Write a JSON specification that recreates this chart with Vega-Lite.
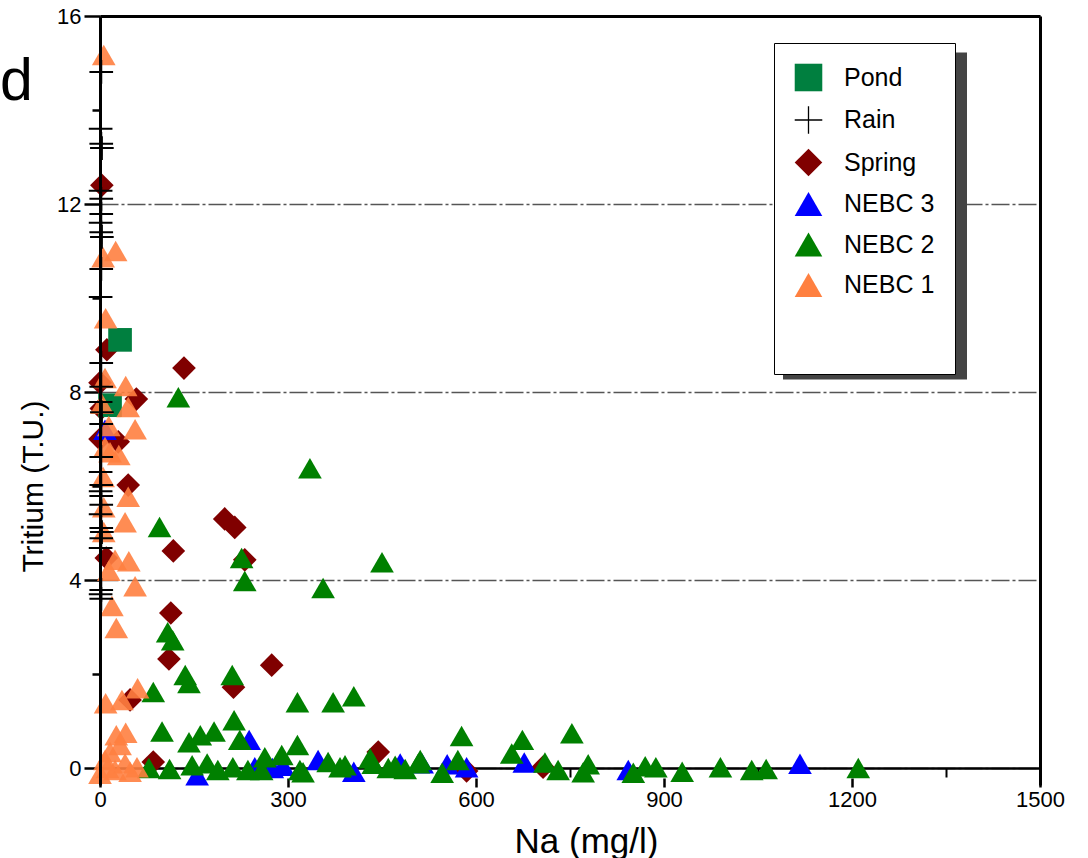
{
  "$schema": "https://vega.github.io/schema/vega-lite/v6.json",
  "width": 940,
  "height": 769,
  "autosize": {"type": "none"},
  "padding": {"left": 100, "top": 16, "right": 48, "bottom": 73},
  "background": "white",
  "config": {
    "view": {"stroke": null},
    "font": "Liberation Sans",
    "axis": {"labelFont": "Liberation Sans", "titleFont": "Liberation Sans", "labelColor": "black", "titleColor": "black", "tickColor": "black", "domainColor": "black", "labelFlush": false, "labelOverlap": false}
  },
  "title": {"text": "d", "anchor": "start", "frame": "group", "orient": "top", "fontSize": 59, "fontWeight": "normal", "font": "Liberation Sans", "color": "black", "baseline": "alphabetic", "offset": 0, "dx": -100, "dy": 154},
  "data": {
    "values": [
      {"type": "Spring", "na": 3, "tritium": 12.4},
      {"type": "Spring", "na": 11, "tritium": 8.9},
      {"type": "Spring", "na": 0, "tritium": 8.2},
      {"type": "Spring", "na": 2, "tritium": 7.65},
      {"type": "Spring", "na": 0, "tritium": 7.0},
      {"type": "Spring", "na": 134, "tritium": 8.51},
      {"type": "Spring", "na": 58, "tritium": 7.85},
      {"type": "Spring", "na": 29, "tritium": 6.94},
      {"type": "Spring", "na": 45, "tritium": 6.02},
      {"type": "Spring", "na": 10, "tritium": 4.47},
      {"type": "Spring", "na": 199, "tritium": 5.3},
      {"type": "Spring", "na": 215, "tritium": 5.12},
      {"type": "Spring", "na": 117, "tritium": 4.62},
      {"type": "Spring", "na": 231, "tritium": 4.43},
      {"type": "Spring", "na": 113, "tritium": 3.3},
      {"type": "Spring", "na": 110, "tritium": 2.32},
      {"type": "Spring", "na": 274, "tritium": 2.19},
      {"type": "Spring", "na": 213, "tritium": 1.72},
      {"type": "Spring", "na": 48, "tritium": 1.45},
      {"type": "Spring", "na": 85, "tritium": 0.13},
      {"type": "Spring", "na": 444, "tritium": 0.34},
      {"type": "Spring", "na": 585, "tritium": -0.06},
      {"type": "Spring", "na": 707, "tritium": 0.02},
      {"type": "Pond", "na": 32, "tritium": 9.11},
      {"type": "Pond", "na": 16, "tritium": 7.72},
      {"type": "NEBC 3", "na": 8, "tritium": 7.2},
      {"type": "NEBC 3", "na": 238, "tritium": 0.6},
      {"type": "NEBC 3", "na": 247, "tritium": 0.02},
      {"type": "NEBC 3", "na": 275, "tritium": 0.0},
      {"type": "NEBC 3", "na": 292, "tritium": 0.05},
      {"type": "NEBC 3", "na": 155, "tritium": -0.15},
      {"type": "NEBC 3", "na": 348, "tritium": 0.17},
      {"type": "NEBC 3", "na": 405, "tritium": -0.08},
      {"type": "NEBC 3", "na": 479, "tritium": 0.1},
      {"type": "NEBC 3", "na": 514, "tritium": 0.1},
      {"type": "NEBC 3", "na": 554, "tritium": 0.08},
      {"type": "NEBC 3", "na": 585, "tritium": 0.02},
      {"type": "NEBC 3", "na": 677, "tritium": 0.12},
      {"type": "NEBC 3", "na": 843, "tritium": -0.04},
      {"type": "NEBC 3", "na": 1117, "tritium": 0.09},
      {"type": "NEBC 2", "na": 125, "tritium": 7.89},
      {"type": "NEBC 2", "na": 335, "tritium": 6.38},
      {"type": "NEBC 2", "na": 95, "tritium": 5.13},
      {"type": "NEBC 2", "na": 226, "tritium": 4.47},
      {"type": "NEBC 2", "na": 231, "tritium": 3.98},
      {"type": "NEBC 2", "na": 356, "tritium": 3.83},
      {"type": "NEBC 2", "na": 450, "tritium": 4.38},
      {"type": "NEBC 2", "na": 108, "tritium": 2.89},
      {"type": "NEBC 2", "na": 116, "tritium": 2.72},
      {"type": "NEBC 2", "na": 136, "tritium": 1.98},
      {"type": "NEBC 2", "na": 142, "tritium": 1.81},
      {"type": "NEBC 2", "na": 211, "tritium": 1.98},
      {"type": "NEBC 2", "na": 85, "tritium": 1.62},
      {"type": "NEBC 2", "na": 315, "tritium": 1.4},
      {"type": "NEBC 2", "na": 372, "tritium": 1.4},
      {"type": "NEBC 2", "na": 405, "tritium": 1.53},
      {"type": "NEBC 2", "na": 99, "tritium": 0.78},
      {"type": "NEBC 2", "na": 142, "tritium": 0.55},
      {"type": "NEBC 2", "na": 160, "tritium": 0.7},
      {"type": "NEBC 2", "na": 182, "tritium": 0.78},
      {"type": "NEBC 2", "na": 214, "tritium": 1.02},
      {"type": "NEBC 2", "na": 223, "tritium": 0.6},
      {"type": "NEBC 2", "na": 290, "tritium": 0.28},
      {"type": "NEBC 2", "na": 315, "tritium": 0.49},
      {"type": "NEBC 2", "na": 263, "tritium": 0.23},
      {"type": "NEBC 2", "na": 258, "tritium": -0.04},
      {"type": "NEBC 2", "na": 319, "tritium": -0.04},
      {"type": "NEBC 2", "na": 364, "tritium": 0.13},
      {"type": "NEBC 2", "na": 391, "tritium": 0.06},
      {"type": "NEBC 2", "na": 431, "tritium": 0.21},
      {"type": "NEBC 2", "na": 471, "tritium": 0.05},
      {"type": "NEBC 2", "na": 487, "tritium": -0.02},
      {"type": "NEBC 2", "na": 511, "tritium": 0.17},
      {"type": "NEBC 2", "na": 546, "tritium": -0.1},
      {"type": "NEBC 2", "na": 577, "tritium": 0.68},
      {"type": "NEBC 2", "na": 571, "tritium": 0.17},
      {"type": "NEBC 2", "na": 657, "tritium": 0.31},
      {"type": "NEBC 2", "na": 674, "tritium": 0.6},
      {"type": "NEBC 2", "na": 753, "tritium": 0.74},
      {"type": "NEBC 2", "na": 710, "tritium": 0.12},
      {"type": "NEBC 2", "na": 731, "tritium": -0.04},
      {"type": "NEBC 2", "na": 779, "tritium": 0.08},
      {"type": "NEBC 2", "na": 771, "tritium": -0.09},
      {"type": "NEBC 2", "na": 851, "tritium": -0.1},
      {"type": "NEBC 2", "na": 870, "tritium": 0.04},
      {"type": "NEBC 2", "na": 887, "tritium": 0.02},
      {"type": "NEBC 2", "na": 929, "tritium": -0.08},
      {"type": "NEBC 2", "na": 990, "tritium": 0.02},
      {"type": "NEBC 2", "na": 1040, "tritium": -0.04},
      {"type": "NEBC 2", "na": 1063, "tritium": -0.02},
      {"type": "NEBC 2", "na": 1210, "tritium": 0.0},
      {"type": "NEBC 2", "na": 78, "tritium": 0.0},
      {"type": "NEBC 2", "na": 111, "tritium": -0.02},
      {"type": "NEBC 2", "na": 147, "tritium": 0.06},
      {"type": "NEBC 2", "na": 171, "tritium": 0.1},
      {"type": "NEBC 2", "na": 188, "tritium": -0.04},
      {"type": "NEBC 2", "na": 212, "tritium": 0.02},
      {"type": "NEBC 2", "na": 236, "tritium": -0.04},
      {"type": "NEBC 2", "na": 324, "tritium": -0.09},
      {"type": "NEBC 2", "na": 383, "tritium": 0.02},
      {"type": "NEBC 2", "na": 436, "tritium": 0.09},
      {"type": "NEBC 2", "na": 460, "tritium": 0.0},
      {"type": "NEBC 2", "na": 508, "tritium": 0.1},
      {"type": "NEBC 1", "na": 6, "tritium": 15.17},
      {"type": "NEBC 1", "na": 5, "tritium": 10.87},
      {"type": "NEBC 1", "na": 25, "tritium": 11.0},
      {"type": "NEBC 1", "na": 9, "tritium": 9.57},
      {"type": "NEBC 1", "na": 8, "tritium": 8.3},
      {"type": "NEBC 1", "na": 41, "tritium": 8.13},
      {"type": "NEBC 1", "na": 45, "tritium": 7.68},
      {"type": "NEBC 1", "na": 3, "tritium": 7.75},
      {"type": "NEBC 1", "na": 14, "tritium": 7.28},
      {"type": "NEBC 1", "na": 56, "tritium": 7.21},
      {"type": "NEBC 1", "na": 8, "tritium": 6.83},
      {"type": "NEBC 1", "na": 30, "tritium": 6.66},
      {"type": "NEBC 1", "na": 16, "tritium": 6.72},
      {"type": "NEBC 1", "na": 5, "tritium": 6.19},
      {"type": "NEBC 1", "na": 45, "tritium": 5.77},
      {"type": "NEBC 1", "na": 6, "tritium": 5.55},
      {"type": "NEBC 1", "na": 40, "tritium": 5.23},
      {"type": "NEBC 1", "na": 6, "tritium": 5.02},
      {"type": "NEBC 1", "na": 24, "tritium": 4.43},
      {"type": "NEBC 1", "na": 14, "tritium": 4.2},
      {"type": "NEBC 1", "na": 46, "tritium": 4.4},
      {"type": "NEBC 1", "na": 56, "tritium": 3.87},
      {"type": "NEBC 1", "na": 19, "tritium": 3.45},
      {"type": "NEBC 1", "na": 26, "tritium": 2.98},
      {"type": "NEBC 1", "na": 9, "tritium": 1.38},
      {"type": "NEBC 1", "na": 35, "tritium": 1.45},
      {"type": "NEBC 1", "na": 60, "tritium": 1.7},
      {"type": "NEBC 1", "na": 26, "tritium": 0.7},
      {"type": "NEBC 1", "na": 41, "tritium": 0.75},
      {"type": "NEBC 1", "na": 8, "tritium": 0.17},
      {"type": "NEBC 1", "na": 16, "tritium": 0.34},
      {"type": "NEBC 1", "na": 24, "tritium": -0.04},
      {"type": "NEBC 1", "na": 32, "tritium": 0.49},
      {"type": "NEBC 1", "na": 0, "tritium": -0.12},
      {"type": "NEBC 1", "na": 59, "tritium": 0.02},
      {"type": "NEBC 1", "na": 12, "tritium": 0.0},
      {"type": "NEBC 1", "na": 40, "tritium": 0.1},
      {"type": "NEBC 1", "na": 48, "tritium": -0.08},
      {"type": "Rain", "na": 2, "tritium": 14.81},
      {"type": "Rain", "na": 1, "tritium": 13.6},
      {"type": "Rain", "na": 2, "tritium": 13.28},
      {"type": "Rain", "na": 3, "tritium": 13.19},
      {"type": "Rain", "na": 1, "tritium": 12.28},
      {"type": "Rain", "na": 2, "tritium": 12.11},
      {"type": "Rain", "na": 2, "tritium": 11.79},
      {"type": "Rain", "na": 1, "tritium": 11.6},
      {"type": "Rain", "na": 2, "tritium": 11.4},
      {"type": "Rain", "na": 3, "tritium": 11.3},
      {"type": "Rain", "na": 2, "tritium": 10.62},
      {"type": "Rain", "na": 1, "tritium": 10.02},
      {"type": "Rain", "na": 2, "tritium": 8.62},
      {"type": "Rain", "na": 2, "tritium": 8.11},
      {"type": "Rain", "na": 1, "tritium": 7.79},
      {"type": "Rain", "na": 3, "tritium": 7.57},
      {"type": "Rain", "na": 2, "tritium": 7.32},
      {"type": "Rain", "na": 2, "tritium": 6.62},
      {"type": "Rain", "na": 1, "tritium": 6.3},
      {"type": "Rain", "na": 2, "tritium": 6.02},
      {"type": "Rain", "na": 1, "tritium": 5.89},
      {"type": "Rain", "na": 2, "tritium": 5.79},
      {"type": "Rain", "na": 2, "tritium": 5.6},
      {"type": "Rain", "na": 1, "tritium": 5.4},
      {"type": "Rain", "na": 2, "tritium": 5.11},
      {"type": "Rain", "na": 3, "tritium": 5.02},
      {"type": "Rain", "na": 2, "tritium": 4.89},
      {"type": "Rain", "na": 1, "tritium": 4.68},
      {"type": "Rain", "na": 2, "tritium": 3.79},
      {"type": "Rain", "na": 1, "tritium": 3.7},
      {"type": "Rain", "na": 2, "tritium": 3.6}
    ]
  },
  "resolve": {"axis": {"x": "independent", "y": "independent"}},
  "layer": [
    {
      "transform": [{"filter": "datum.type === 'Spring' || datum.type === 'Pond' || datum.type === 'NEBC 3' || datum.type === 'NEBC 2'"}],
      "mark": {"type": "point", "filled": true, "size": 560, "strokeWidth": 0},
      "encoding": {
        "x": {"field": "na", "type": "quantitative", "scale": {"domain": [0, 1500], "nice": false, "zero": false},
          "axis": {"orient": "bottom", "offset": -7, "values": [0, 300, 600, 900, 1200, 1500], "domain": false, "ticks": true, "tickSize": 9, "tickWidth": 2.5, "labelFontSize": 22, "labelPadding": 2, "grid": false, "title": "Na (mg/l)", "titleFontSize": 35, "titleFontWeight": "normal", "titleX": 486, "titleY": 74, "titleBaseline": "alphabetic", "titleAlign": "center", "format": "d"}},
        "y": {"field": "tritium", "type": "quantitative", "scale": {"domain": [-0.36, 16], "nice": false, "zero": false},
          "axis": {"orient": "left", "values": [0, 4, 8, 12, 16], "domain": false, "tickSize": 16, "tickWidth": 2.5, "labelFontSize": 22, "labelPadding": 3, "grid": true, "gridColor": "#555555", "gridDash": [18, 3, 3, 3], "gridWidth": 1.3, "title": "Tritium (T.U.)", "titleFontSize": 30, "titleFontWeight": "normal", "titleX": -58, "titleY": 470, "titleBaseline": "alphabetic", "titleAlign": "center", "format": "d"}},
        "fill": {"field": "type", "type": "nominal", "scale": {"domain": ["Pond", "Rain", "Spring", "NEBC 3", "NEBC 2", "NEBC 1"], "range": ["#007f3f", "transparent", "#800000", "#0000ff", "#008000", "#ff8040"]},
          "legend": {"orient": "none", "legendX": 674, "legendY": 27, "title": "\u00a0", "titleOrient": "bottom", "titleFontSize": 40, "titlePadding": 13.5, "fillColor": "white", "strokeColor": "black", "padding": 20, "symbolSize": 760, "symbolStrokeWidth": 1.3, "symbolOpacity": 1, "labelFontSize": 25, "labelColor": "black", "labelFont": "Liberation Sans", "labelOffset": 21, "rowPadding": 9.5, "labelLimit": 0, "zindex": 2}},
        "stroke": {"field": "type", "type": "nominal", "scale": {"domain": ["Pond", "Rain", "Spring", "NEBC 3", "NEBC 2", "NEBC 1"], "range": ["transparent", "#000000", "transparent", "transparent", "transparent", "transparent"]},
          "legend": {"orient": "none", "legendX": 674, "legendY": 27, "title": "\u00a0", "titleOrient": "bottom", "titleFontSize": 40, "titlePadding": 13.5, "fillColor": "white", "strokeColor": "black", "padding": 20, "symbolSize": 760, "symbolStrokeWidth": 1.3, "symbolOpacity": 1, "labelFontSize": 25, "labelColor": "black", "labelFont": "Liberation Sans", "labelOffset": 21, "rowPadding": 9.5, "labelLimit": 0, "zindex": 2}},
        "shape": {"field": "type", "type": "nominal", "scale": {"domain": ["Pond", "Rain", "Spring", "NEBC 3", "NEBC 2", "NEBC 1"], "range": ["square", "M-1,0H1M0,-1V1", "diamond", "triangle-up", "triangle-up", "triangle-up"]},
          "legend": {"orient": "none", "legendX": 674, "legendY": 27, "title": "\u00a0", "titleOrient": "bottom", "titleFontSize": 40, "titlePadding": 13.5, "fillColor": "white", "strokeColor": "black", "padding": 20, "symbolSize": 760, "symbolStrokeWidth": 1.3, "symbolOpacity": 1, "labelFontSize": 25, "labelColor": "black", "labelFont": "Liberation Sans", "labelOffset": 21, "rowPadding": 9.5, "labelLimit": 0, "zindex": 2}},
        "opacity": {"field": "na", "type": "quantitative", "scale": {"range": [1, 1]},
          "legend": {"orient": "none", "legendX": 774, "legendY": 199, "title": null, "padding": 0, "symbolType": "M-92,-163.5H92V163.5H-92Z", "symbolSize": 4, "symbolFillColor": "#444444", "symbolStrokeColor": "transparent", "symbolStrokeWidth": 0, "symbolOpacity": 1, "labelExpr": "''", "labelFontSize": 1, "values": [0], "zindex": 1}}
      }
    },
    {
      "transform": [{"filter": "datum.type === 'NEBC 1'"}],
      "mark": {"type": "point", "filled": true, "size": 560, "strokeWidth": 0, "opacity": 0.9},
      "encoding": {
        "x": {"field": "na", "type": "quantitative", "scale": {"domain": [0, 1500], "nice": false, "zero": false},
          "axis": {"orient": "bottom", "offset": -17, "values": [150, 450, 750, 1050, 1350], "domain": true, "domainWidth": 2.5, "ticks": true, "tickSize": 9, "tickWidth": 2, "labels": false, "grid": false, "title": null}},
        "y": {"field": "tritium", "type": "quantitative", "scale": {"domain": [-0.36, 16], "nice": false, "zero": false},
          "axis": {"orient": "left", "values": [2, 6, 10, 14], "domain": true, "domainWidth": 3, "tickSize": 8, "tickWidth": 2.5, "labels": false, "grid": false, "title": null, "zindex": 1}},
        "fill": {"field": "type", "type": "nominal", "scale": {"domain": ["Pond", "Rain", "Spring", "NEBC 3", "NEBC 2", "NEBC 1"], "range": ["#007f3f", "transparent", "#800000", "#0000ff", "#008000", "#ff8040"]},
          "legend": {"orient": "none", "legendX": 674, "legendY": 27, "title": "\u00a0", "titleOrient": "bottom", "titleFontSize": 40, "titlePadding": 13.5, "fillColor": "white", "strokeColor": "black", "padding": 20, "symbolSize": 760, "symbolStrokeWidth": 1.3, "symbolOpacity": 1, "labelFontSize": 25, "labelColor": "black", "labelFont": "Liberation Sans", "labelOffset": 21, "rowPadding": 9.5, "labelLimit": 0, "zindex": 2}},
        "stroke": {"field": "type", "type": "nominal", "scale": {"domain": ["Pond", "Rain", "Spring", "NEBC 3", "NEBC 2", "NEBC 1"], "range": ["transparent", "#000000", "transparent", "transparent", "transparent", "transparent"]},
          "legend": {"orient": "none", "legendX": 674, "legendY": 27, "title": "\u00a0", "titleOrient": "bottom", "titleFontSize": 40, "titlePadding": 13.5, "fillColor": "white", "strokeColor": "black", "padding": 20, "symbolSize": 760, "symbolStrokeWidth": 1.3, "symbolOpacity": 1, "labelFontSize": 25, "labelColor": "black", "labelFont": "Liberation Sans", "labelOffset": 21, "rowPadding": 9.5, "labelLimit": 0, "zindex": 2}},
        "shape": {"field": "type", "type": "nominal", "scale": {"domain": ["Pond", "Rain", "Spring", "NEBC 3", "NEBC 2", "NEBC 1"], "range": ["square", "M-1,0H1M0,-1V1", "diamond", "triangle-up", "triangle-up", "triangle-up"]},
          "legend": {"orient": "none", "legendX": 674, "legendY": 27, "title": "\u00a0", "titleOrient": "bottom", "titleFontSize": 40, "titlePadding": 13.5, "fillColor": "white", "strokeColor": "black", "padding": 20, "symbolSize": 760, "symbolStrokeWidth": 1.3, "symbolOpacity": 1, "labelFontSize": 25, "labelColor": "black", "labelFont": "Liberation Sans", "labelOffset": 21, "rowPadding": 9.5, "labelLimit": 0, "zindex": 2}}
      }
    },
    {
      "transform": [{"filter": "datum.type === 'Rain'"}],
      "mark": {"type": "point", "filled": true, "size": 560, "strokeWidth": 2, "opacity": 1},
      "encoding": {
        "x": {"field": "na", "type": "quantitative", "scale": {"domain": [0, 1500], "nice": false, "zero": false},
          "axis": {"orient": "top", "domain": true, "domainWidth": 3, "ticks": false, "labels": false, "grid": false, "title": null}},
        "y": {"field": "tritium", "type": "quantitative", "scale": {"domain": [-0.36, 16], "nice": false, "zero": false},
          "axis": {"orient": "right", "domain": true, "domainWidth": 3, "ticks": false, "labels": false, "grid": false, "title": null}},
        "fill": {"field": "type", "type": "nominal", "scale": {"domain": ["Pond", "Rain", "Spring", "NEBC 3", "NEBC 2", "NEBC 1"], "range": ["#007f3f", "transparent", "#800000", "#0000ff", "#008000", "#ff8040"]},
          "legend": {"orient": "none", "legendX": 674, "legendY": 27, "title": "\u00a0", "titleOrient": "bottom", "titleFontSize": 40, "titlePadding": 13.5, "fillColor": "white", "strokeColor": "black", "padding": 20, "symbolSize": 760, "symbolStrokeWidth": 1.3, "symbolOpacity": 1, "labelFontSize": 25, "labelColor": "black", "labelFont": "Liberation Sans", "labelOffset": 21, "rowPadding": 9.5, "labelLimit": 0, "zindex": 2}},
        "stroke": {"field": "type", "type": "nominal", "scale": {"domain": ["Pond", "Rain", "Spring", "NEBC 3", "NEBC 2", "NEBC 1"], "range": ["transparent", "#000000", "transparent", "transparent", "transparent", "transparent"]},
          "legend": {"orient": "none", "legendX": 674, "legendY": 27, "title": "\u00a0", "titleOrient": "bottom", "titleFontSize": 40, "titlePadding": 13.5, "fillColor": "white", "strokeColor": "black", "padding": 20, "symbolSize": 760, "symbolStrokeWidth": 1.3, "symbolOpacity": 1, "labelFontSize": 25, "labelColor": "black", "labelFont": "Liberation Sans", "labelOffset": 21, "rowPadding": 9.5, "labelLimit": 0, "zindex": 2}},
        "shape": {"field": "type", "type": "nominal", "scale": {"domain": ["Pond", "Rain", "Spring", "NEBC 3", "NEBC 2", "NEBC 1"], "range": ["square", "M-1,0H1M0,-1V1", "diamond", "triangle-up", "triangle-up", "triangle-up"]},
          "legend": {"orient": "none", "legendX": 674, "legendY": 27, "title": "\u00a0", "titleOrient": "bottom", "titleFontSize": 40, "titlePadding": 13.5, "fillColor": "white", "strokeColor": "black", "padding": 20, "symbolSize": 760, "symbolStrokeWidth": 1.3, "symbolOpacity": 1, "labelFontSize": 25, "labelColor": "black", "labelFont": "Liberation Sans", "labelOffset": 21, "rowPadding": 9.5, "labelLimit": 0, "zindex": 2}}
      }
    }
  ]
}
